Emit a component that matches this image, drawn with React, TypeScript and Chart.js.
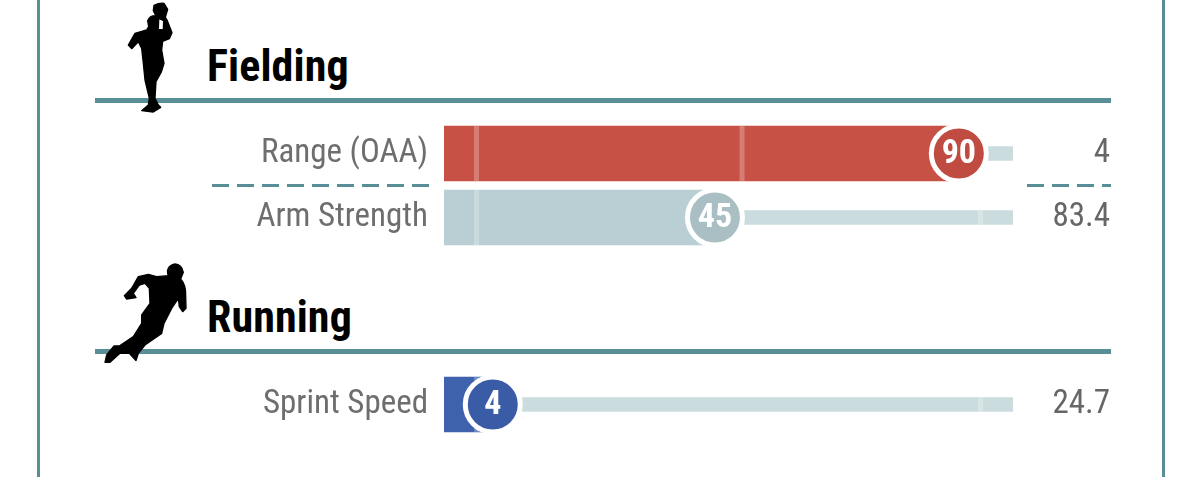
import React, { useEffect, useRef } from "react";
import { Chart, registerables } from "chart.js";

Chart.register(...registerables);

const fieldingLabels = ["Range (OAA)", "Arm Strength"];
const fieldingRaw = ["4", "83.4"];
const fieldingPct = [90, 45];
const fieldingBarColors = ["#c85146", "#b9cfd3"];
const fieldingDotColors = ["#c04b41", "#a9bfc4"];

const runningLabels = ["Sprint Speed"];
const runningRaw = ["24.7"];
const runningPct = [4];
const runningBarColors = ["#3f62ad"];
const runningDotColors = ["#3a5ba6"];

const TRACK_MAX = 100;
const AXIS_MIN = -5;
const barMarks = [1, 50];
const trackMarks = [94];
const FONT = "Roboto";

const bandPlugin = {
  id: "bands",
  afterDatasetDraw(chart: any, args: any) {
    if (args.index !== 1) return;
    const ctx = chart.ctx;
    const x = chart.scales.x;
    const bars = chart.getDatasetMeta(1).data;
    const track = chart.getDatasetMeta(0).data;
    const vals = chart.data.datasets[1].data;
    ctx.save();
    ctx.fillStyle = "rgba(255,255,255,0.25)";
    bars.forEach((b: any, i: number) => {
      barMarks.forEach((m) => {
        if (m <= vals[i]) ctx.fillRect(x.getPixelForValue(m) - 2.5, b.y - b.height / 2, 5, b.height);
      });
      trackMarks.forEach((m) => {
        if (m > vals[i]) ctx.fillRect(x.getPixelForValue(m) - 2.5, b.y - track[i].height / 2, 5, track[i].height);
      });
    });
    ctx.restore();
  },
};

const dotLabelPlugin = {
  id: "dotLabels",
  afterDatasetsDraw(chart: any) {
    const ctx = chart.ctx;
    const pts = chart.getDatasetMeta(2).data;
    const vals = chart.data.datasets[1].data;
    ctx.save();
    ctx.fillStyle = "#ffffff";
    ctx.font = `condensed bold 34px ${FONT}`;
    ctx.textAlign = "center";
    ctx.textBaseline = "middle";
    pts.forEach((p: any, i: number) => ctx.fillText(String(vals[i]), p.x, p.y + 1));
    ctx.restore();
  },
};

function makeConfig(labels: string[], raw: string[], pct: number[], barColors: string[], dotColors: string[]): any {
  const tickFont = { family: FONT, size: 33, weight: "condensed" };
  return {
    type: "bar",
    data: {
      labels,
      datasets: [
        {
          label: "Track",
          data: labels.map(() => TRACK_MAX),
          base: AXIS_MIN,
          backgroundColor: "#cbdcde",
          barThickness: 14,
          order: 3,
          grouped: false,
        },
        {
          label: "Percentile",
          data: pct,
          base: AXIS_MIN,
          backgroundColor: barColors,
          barThickness: 55,
          order: 2,
          grouped: false,
        },
        {
          type: "line",
          indexAxis: "y",
          label: "Percentile dot",
          data: pct,
          showLine: false,
          clip: false,
          pointRadius: 27.5,
          pointBorderWidth: 5,
          pointBorderColor: "#ffffff",
          pointBackgroundColor: dotColors,
          order: 1,
        },
      ],
    },
    plugins: [bandPlugin, dotLabelPlugin],
    options: {
      indexAxis: "y",
      animation: false,
      responsive: false,
      events: [],
      layout: { padding: { left: 0, right: 90, top: 36.5, bottom: 36.5 } },
      plugins: { legend: { display: false }, tooltip: { enabled: false }, title: { display: false } },
      scales: {
        x: {
          type: "linear",
          min: AXIS_MIN,
          max: TRACK_MAX,
          display: false,
        },
        y: {
          type: "category",
          position: "left",
          afterFit: (s: any) => { s.width = 444; },
          grid: { display: false, drawTicks: false },
          border: { display: false },
          ticks: { color: "#6e6e6e", font: tickFont, padding: 16, autoSkip: false },
        },
        yRaw: {
          type: "category",
          position: "right",
          labels: raw,
          afterFit: (s: any) => { s.width = 97; },
          grid: { display: false, drawTicks: false },
          border: { display: false },
          ticks: { color: "#666666", font: tickFont, crossAlign: "far", autoSkip: false },
        },
      },
    },
  };
}

function ChartRow(props: { top: number; height: number; config: any }) {
  const ref = useRef<HTMLCanvasElement>(null);
  useEffect(() => {
    const c = new Chart(ref.current as HTMLCanvasElement, props.config);
    return () => c.destroy();
  }, []);
  return (
    <canvas
      ref={ref}
      width={1200}
      height={props.height}
      style={{ position: "absolute", left: 0, top: props.top, width: 1200, height: props.height }}
    />
  );
}

const TEAL = "#5a8e96";
const heading = (top: number): React.CSSProperties => ({
  position: "absolute",
  left: 207,
  top,
  fontFamily: FONT,
  fontWeight: 700,
  fontStretch: "75%",
  fontSize: 44,
  letterSpacing: 0.1,
  lineHeight: "50px",
  color: "#000",
  whiteSpace: "nowrap",
});

const dash = (left: number, width: number): React.CSSProperties => ({
  position: "absolute",
  left,
  top: 184,
  width,
  height: 3,
  backgroundImage: `repeating-linear-gradient(90deg, ${TEAL} 0 17px, transparent 17px 25px)`,
});

export default function App() {
  return (
    <div style={{ position: "absolute", left: 0, top: 0, width: 1200, height: 477, overflow: "hidden", background: "#fff" }}>
      <div style={{ position: "absolute", left: 37, top: 0, width: 3, height: 477, background: TEAL }} />
      <div style={{ position: "absolute", left: 1162, top: 0, width: 3, height: 477, background: TEAL }} />

      <div style={heading(41)}>Fielding</div>
      <div style={{ position: "absolute", left: 95, top: 98, width: 1016, height: 5, background: TEAL }} />
      <div style={heading(292)}>Running</div>
      <div style={{ position: "absolute", left: 95, top: 349, width: 1016, height: 5, background: TEAL }} />

      <div style={dash(212, 217)} />
      <div style={dash(1027, 84)} />

      <ChartRow top={85} height={201} config={makeConfig(fieldingLabels, fieldingRaw, fieldingPct, fieldingBarColors, fieldingDotColors)} />
      <ChartRow top={336} height={137} config={makeConfig(runningLabels, runningRaw, runningPct, runningBarColors, runningDotColors)} />

      <svg style={{ position: "absolute", left: 90, top: 0, width: 400, height: 250, pointerEvents: "none" }} viewBox="0 0 1200 750">
        <path fill="#000" stroke="#000" strokeWidth="4" strokeLinejoin="round" d="M192 16 Q208 8 222 10 L233 28 L226 52 L232 62 L246 98 L238 116 L218 124 L215 150 L222 190 L214 216 L198 245 L195 295 L205 315 L212 322 L190 336 L155 332 L175 315 L178 295 L165 240 L160 190 L155 145 L145 125 L125 146 L115 135 L135 100 L170 90 L176 80 L173 62 Q180 46 197 47 L206 58 L205 88 L220 90 L221 62 L200 52 L190 32 Z" />
      </svg>
      <svg style={{ position: "absolute", left: 90, top: 255, width: 460, height: 222, pointerEvents: "none" }} viewBox="0 0 1380 666">
        <path fill="#000" stroke="#000" strokeWidth="4" strokeLinejoin="round" d="M255 27 Q275 28 280 52 L272 72 Q288 90 287 120 L288 160 L278 170 L268 155 L265 130 L245 160 L222 205 L215 235 L165 270 L145 295 L138 317 L118 295 L90 295 L60 322 L45 322 L50 300 L72 273 L90 272 L130 245 L155 205 L155 180 L180 145 L178 100 L165 85 L148 90 L130 115 L138 128 L110 132 L103 122 L125 100 L145 65 L175 58 L200 65 L235 62 Q225 35 255 27 Z" />
      </svg>
    </div>
  );
}
